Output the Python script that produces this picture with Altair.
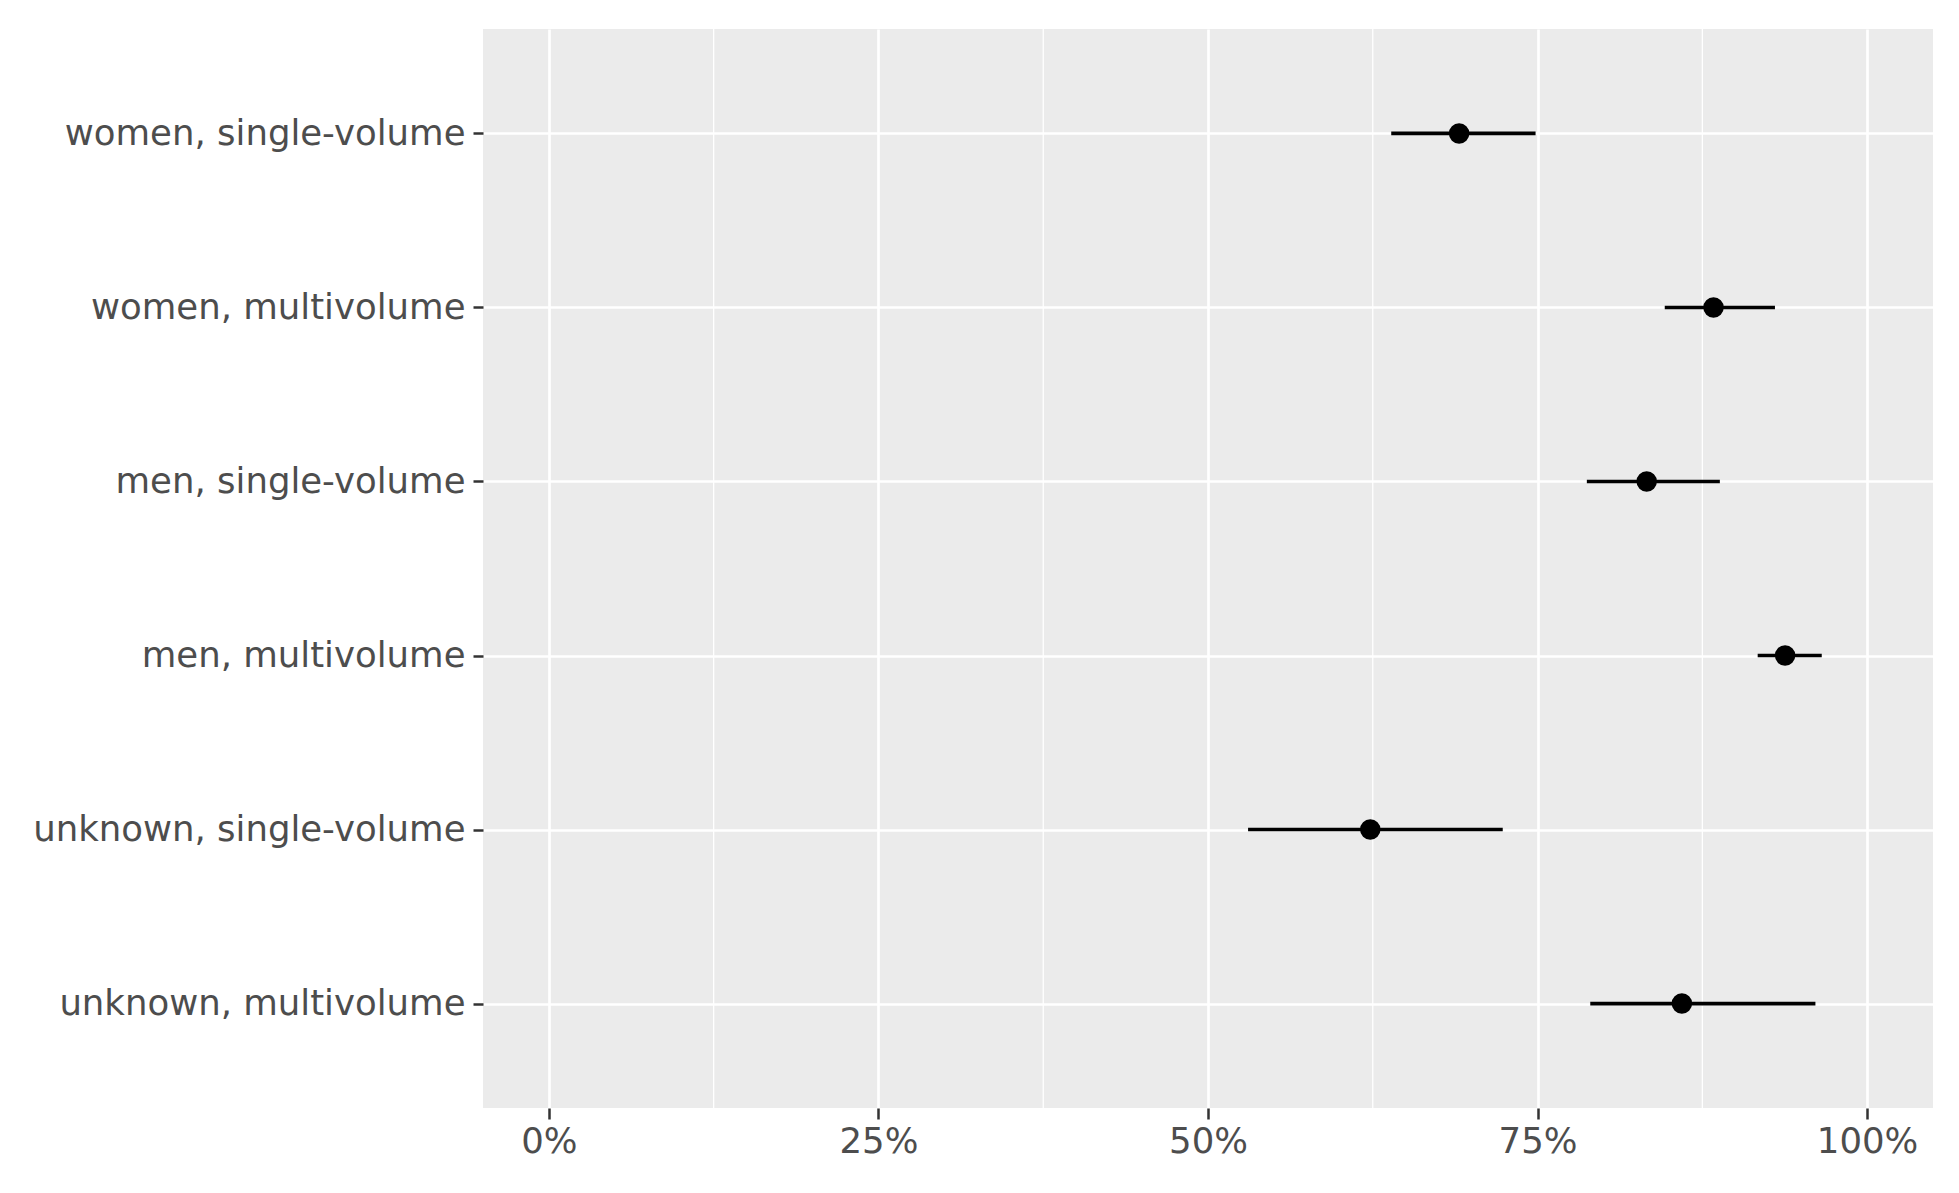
import altair as alt
import pandas as pd

categories = [
    "women, single-volume",
    "women, multivolume",
    "men, single-volume",
    "men, multivolume",
    "unknown, single-volume",
    "unknown, multivolume",
]
estimate = [0.6905, 0.8835, 0.8328, 0.9378, 0.6231, 0.8595]
lower = [0.6390, 0.8465, 0.7874, 0.9170, 0.5304, 0.7900]
upper = [0.7485, 0.9301, 0.8883, 0.9656, 0.7236, 0.9608]

major_breaks = [0, 0.25, 0.5, 0.75, 1.0]
minor_breaks = [0.125, 0.375, 0.625, 0.875]

df = pd.DataFrame({"group": categories, "est": estimate, "lo": lower, "hi": upper})
minor_df = pd.DataFrame({"m": minor_breaks})

FONT = "DejaVu Sans"
FS = 35.5

xscale = alt.Scale(domain=[-0.05, 1.05], nice=False, zero=False)
yscale = alt.Scale(type="point", padding=0.6)

x_axis = alt.Axis(
    values=major_breaks, format=".0%", title=None,
    grid=True, gridColor="white", gridWidth=2.7,
    domain=False, tickColor="#333333", tickWidth=2.5, tickSize=11,
    labelColor="#4D4D4D", labelFont=FONT, labelFontSize=FS, labelPadding=5,
)
y_axis = alt.Axis(
    title=None, grid=True, gridColor="white", gridWidth=2.7,
    domain=False, tickColor="#333333", tickWidth=2.5, tickSize=10,
    labelColor="#4D4D4D", labelFont=FONT, labelFontSize=FS, labelPadding=8,
    labelLimit=0,
)

minor = alt.Chart(minor_df).mark_rule(color="white", strokeWidth=1.3).encode(
    x=alt.X("m:Q", scale=xscale, axis=x_axis)
)

bars = alt.Chart(df).mark_rule(color="black", strokeWidth=3.6).encode(
    x=alt.X("lo:Q", scale=xscale, axis=x_axis),
    x2="hi:Q",
    y=alt.Y("group:N", sort=categories, scale=yscale, axis=y_axis),
)

points = alt.Chart(df).mark_circle(color="black", opacity=1, size=420).encode(
    x=alt.X("est:Q", scale=xscale, axis=x_axis),
    y=alt.Y("group:N", sort=categories, scale=yscale, axis=y_axis),
)

chart = (
    alt.layer(minor, bars, points)
    .properties(width=1450, height=1079, background="white",
                padding={"left": 24, "top": 20, "right": 5, "bottom": 10})
    .configure_view(fill="#EBEBEB", strokeWidth=0)
)

chart.save("out.html", embed_options={"renderer": "svg", "actions": False})
